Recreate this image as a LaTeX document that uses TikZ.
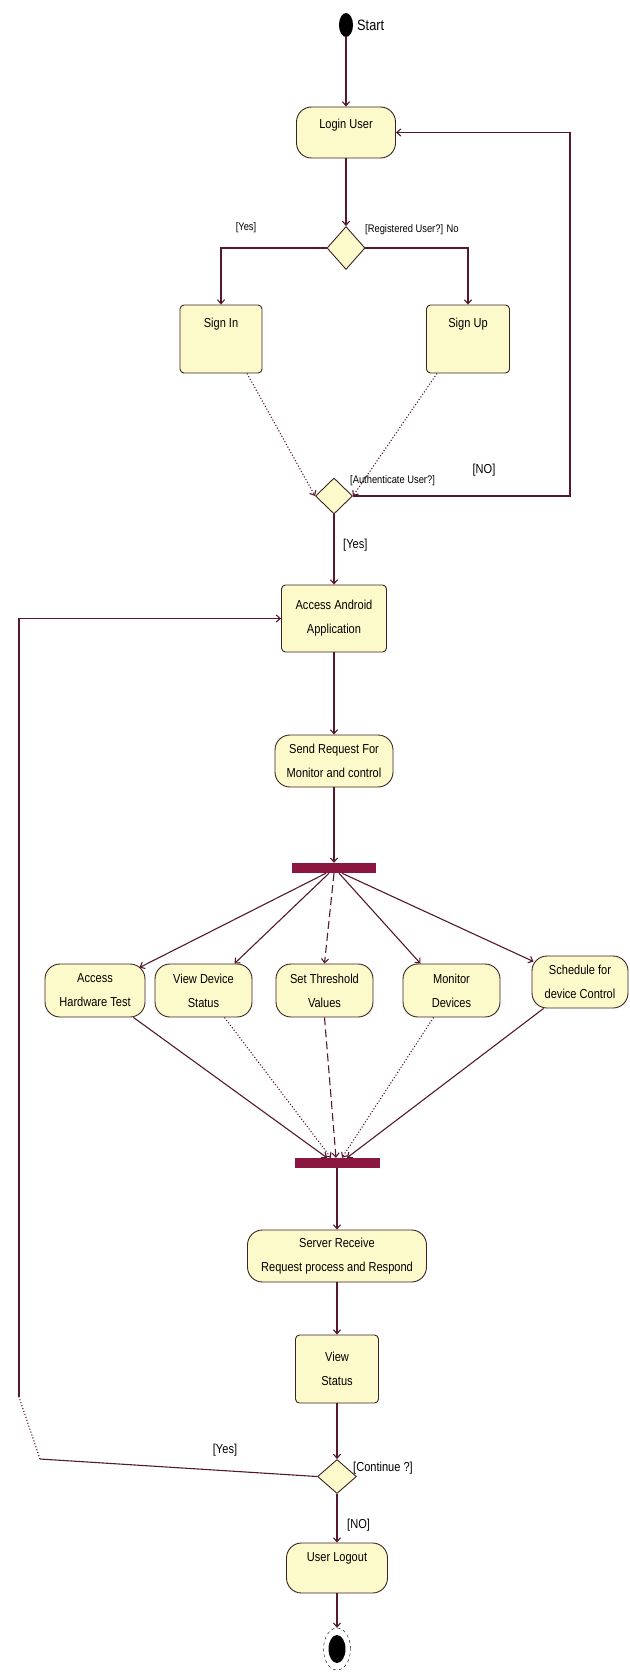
\documentclass[tikz,border=0pt]{standalone}
\usepackage{fontspec}
\setmainfont[FakeStretch=0.85]{Liberation Sans}
\usepackage{xcolor}
\usetikzlibrary{arrows.meta,positioning,calc,shapes.geometric}

\definecolor{actfill}{RGB}{252,250,202}
\definecolor{actedge}{RGB}{60,35,35}
\definecolor{flowcol}{RGB}{85,25,45}
\definecolor{barcol}{RGB}{140,22,66}

\begin{document}
\begin{tikzpicture}[x=1pt, y=-1pt,
  act/.style={draw=actedge, fill=actfill, line width=0.9pt, rounded corners=15pt,
    align=center, inner sep=0pt, font=\fontsize{13}{24}\selectfont},
  actbox/.style={act, rounded corners=4pt},
  decision/.style={diamond, draw=actedge, fill=actfill, line width=0.9pt,
    inner sep=0pt, minimum width=38pt, minimum height=38pt},
  syncbar/.style={fill=barcol, inner sep=0pt, minimum width=84pt, minimum height=10pt},
  flow/.style={draw=flowcol, line width=1.1pt, -{Straight Barb[length=4pt,width=7pt]}},
  guard/.style={inner sep=0pt, font=\fontsize{13}{15}\selectfont},
  smallguard/.style={inner sep=0pt, font=\fontsize{11}{13}\selectfont},
]
  \path[use as bounding box, fill=white] (0,0) rectangle (629,1672);

  % login and sign in / sign up
  \node[ellipse, fill=black, minimum width=14pt, minimum height=24pt, inner sep=0pt] (start) at (346,25) {};
  \node[anchor=west, inner sep=0pt, font=\fontsize{15}{17}\selectfont] (startlbl) at (357,25) {Start};
  \node[act, minimum width=99pt, minimum height=51pt, text height=9pt, text depth=16pt] (login) at (346,132.5) {Login User};
  \node[decision, minimum height=43pt] (dec1) at (346,248) {};
  \node[actbox, minimum width=82pt, minimum height=68pt, text height=9pt, text depth=33pt] (signin) at (221,339) {Sign In};
  \node[actbox, minimum width=83pt, minimum height=68pt, text height=9pt, text depth=33pt] (signup) at (468,339) {Sign Up};
  \node[decision, minimum width=37pt, minimum height=36pt] (dec2) at (334,496) {};

  % main column
  \node[actbox, minimum width=105pt, minimum height=67pt] (access) at (334,618.5) {Access Android\\Application};
  \node[act, minimum width=118pt, minimum height=52pt] (sendreq) at (334,761) {Send Request For\\Monitor and control};
  \node[syncbar] (fork) at (334,868) {};
  \node[act, minimum width=100pt, minimum height=53pt] (hwtest) at (95,990.5) {Access\\Hardware Test};
  \node[act, minimum width=97pt, minimum height=53pt] (devstatus) at (203.5,990.5) {View Device\\Status};
  \node[act, minimum width=97pt, minimum height=53pt] (threshold) at (324.5,990.5) {Set Threshold\\Values};
  \node[act, minimum width=97pt, minimum height=53pt] (monitor) at (451.5,990.5) {Monitor\\Devices};
  \node[act, minimum width=96pt, minimum height=52pt] (schedule) at (580,982) {Schedule for\\device Control};
  \node[syncbar, minimum width=85pt] (join) at (337,1163) {};
  \node[act, minimum width=179pt, minimum height=52pt] (server) at (337,1256) {Server Receive\\Request process and Respond};
  \node[actbox, minimum width=83pt, minimum height=68pt] (viewstat) at (337,1369) {View\\Status};
  \node[decision, minimum width=39pt, minimum height=34pt] (dec3) at (337,1476.5) {};
  \node[act, minimum width=101pt, minimum height=50pt, text height=9pt, text depth=23pt] (logout) at (337,1568) {User Logout};
  \node[ellipse, draw=black, dashed, minimum width=27pt, minimum height=42pt, inner sep=0pt] (stop) at (337,1649) {};
  \fill[black] (stop.center) ellipse (8.5pt and 14pt);

  % flows
  \draw[flow] (start) -- (login);
  \draw[flow] (login) -- (dec1);
  \draw[flow] (dec1.west) -| (signin.north);
  \draw[flow] (dec1.east) -| (signup.north);
  \draw[flow, dotted] ($(signin.south)+(26,0)$) -- (dec2.west);
  \draw[flow, dotted] ($(signup.south)+(-31,0)$) -- (dec2.east);
  \coordinate (loopr) at (570,300);
  \draw[flow] (dec2.east) -| (loopr) |- (login.east);
  \draw[flow] (dec2) -- (access);
  \draw[flow] (access) -- (sendreq);
  \draw[flow] (sendreq) -- (fork);

  \draw[flow] ($(fork.south)+(-8,0)$) -- ($(hwtest.north east)+(-6,4)$);
  \draw[flow] ($(fork.south)+(-5,0)$) -- ($(devstatus.north)+(31,0)$);
  \draw[flow, dash pattern=on 8pt off 4pt] (fork.south) -- (threshold.north);
  \draw[flow] ($(fork.south)+(5,0)$) -- ($(monitor.north)+(-31,0)$);
  \draw[flow] ($(fork.south)+(8,0)$) -- ($(schedule.north west)+(2,6)$);

  \draw[flow] ($(hwtest.south east)+(-12,0)$) -- ($(join.north)+(-10,0)$);
  \draw[flow, dotted] ($(devstatus.south)+(21,0)$) -- ($(join.north)+(-6,0)$);
  \draw[flow, dash pattern=on 8pt off 4pt] (threshold.south) -- ($(join.north)+(-1,0)$);
  \draw[flow, dotted] ($(monitor.south)+(-18,0)$) -- ($(join.north)+(5,0)$);
  \draw[flow] ($(schedule.south west)+(12,0)$) -- ($(join.north)+(10,0)$);

  \draw[flow] (join) -- (server);
  \draw[flow] (server) -- (viewstat);
  \draw[flow] (viewstat) -- (dec3);
  \draw[flow] (dec3) -- (logout);
  \draw[flow] (logout) -- (stop);

  % back to the application
  \coordinate (loopa) at (40,1459);
  \coordinate (loopb) at (19,1397);
  \draw[flowcol, line width=1.1pt] (dec3.west) -- (loopa);
  \draw[flowcol, line width=1.1pt, dotted] (loopa) -- (loopb);
  \draw[flow] (loopb) |- (access.west);

  % guards
  \node[smallguard] (yes1) at (246,228) {[Yes]};
  \node[smallguard, anchor=west] (regq) at (365,230) {[Registered User?] No};
  \node[smallguard, anchor=west] (authq) at (350,481) {[Authenticate User?]};
  \node[guard] (no1) at (484,470) {[NO]};
  \node[guard, anchor=west] (yes2) at (343,545) {[Yes]};
  \node[guard] (yes3) at (225,1450) {[Yes]};
  \node[guard, anchor=west] (contq) at (353,1468) {[Continue ?]};
  \node[guard, anchor=west] (no2) at (347,1525) {[NO]};
\end{tikzpicture}
\end{document}
